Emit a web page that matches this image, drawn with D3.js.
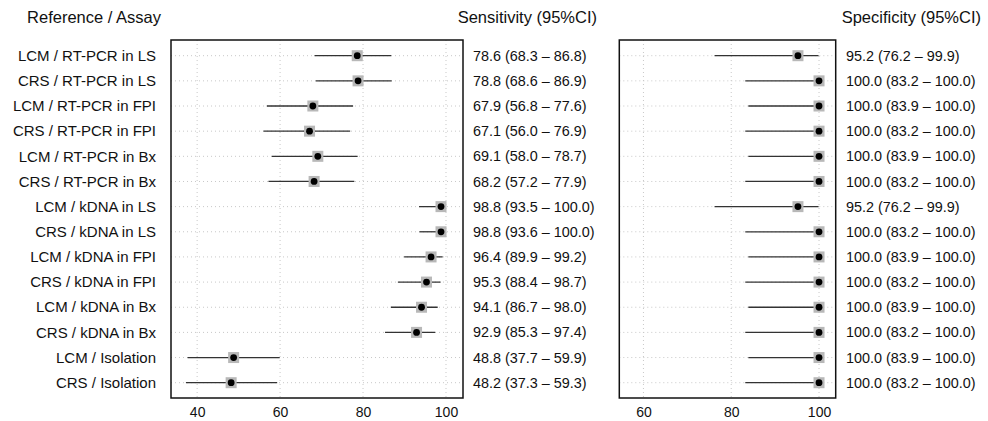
<!DOCTYPE html>
<meta charset="utf-8">
<title>Forest plot - sensitivity / specificity</title>
<style>
body { margin: 0; background: #fff; }
text { font-family: "Liberation Sans", Arial, sans-serif; fill: #111; }
.grid { stroke: #c8c8c8; stroke-width: 1; stroke-dasharray: 1,3; }
.ci { stroke: #333; stroke-width: 1.3; }
.box { fill: none; stroke: #111; stroke-width: 1.5; }
</style>
<body>
<div id="chart"></div>
<script src="https://cdn.jsdelivr.net/npm/d3@7"></script>
<script>

// data
const labels = [
  "LCM / RT-PCR in LS", "CRS / RT-PCR in LS",
  "LCM / RT-PCR in FPI", "CRS / RT-PCR in FPI",
  "LCM / RT-PCR in Bx", "CRS / RT-PCR in Bx",
  "LCM / kDNA in LS", "CRS / kDNA in LS",
  "LCM / kDNA in FPI", "CRS / kDNA in FPI",
  "LCM / kDNA in Bx", "CRS / kDNA in Bx",
  "LCM / Isolation", "CRS / Isolation"
];
const sens   = [78.6, 78.8, 67.9, 67.1, 69.1, 68.2, 98.8, 98.8, 96.4, 95.3, 94.1, 92.9, 48.8, 48.2];
const sensLo = [68.3, 68.6, 56.8, 56.0, 58.0, 57.2, 93.5, 93.6, 89.9, 88.4, 86.7, 85.3, 37.7, 37.3];
const sensHi = [86.8, 86.9, 77.6, 76.9, 78.7, 77.9, 100.0, 100.0, 99.2, 98.7, 98.0, 97.4, 59.9, 59.3];
const spec   = [95.2, 100.0, 100.0, 100.0, 100.0, 100.0, 95.2, 100.0, 100.0, 100.0, 100.0, 100.0, 100.0, 100.0];
const specLo = [76.2, 83.2, 83.9, 83.2, 83.9, 83.2, 76.2, 83.2, 83.9, 83.2, 83.9, 83.2, 83.9, 83.2];
const specHi = [99.9, 100.0, 100.0, 100.0, 100.0, 100.0, 99.9, 100.0, 100.0, 100.0, 100.0, 100.0, 100.0, 100.0];
const sensTicks = [40, 60, 80, 100];
const specTicks = [60, 80, 100];

const width = 988, height = 421;
const panelTop = 40, panelBottom = 398;

const svg = d3.select("#chart").append("svg")
    .attr("width", width)
    .attr("height", height);

// rows share one point scale
const y = d3.scalePoint()
    .domain(d3.range(labels.length))
    .range([55.7, 382.7]);

const fmt = d3.format(".1f");

// left labels
svg.append("text")
    .attr("x", 161).attr("y", 23)
    .attr("text-anchor", "end")
    .attr("font-size", 16.5)
    .text("Reference / Assay");

svg.append("g").selectAll("text")
    .data(labels)
    .enter().append("text")
    .attr("x", 156)
    .attr("y", (d, i) => y(i))
    .attr("dy", "0.35em")
    .attr("text-anchor", "end")
    .attr("font-size", 15)
    .text(d => d);

function drawPanel(opts) {
    const x = d3.scaleLinear().domain(opts.domain).range([opts.left, opts.right]);
    const g = svg.append("g");

    // dotted grid
    g.selectAll(".vgrid")
        .data(opts.ticks)
        .enter().append("line")
        .attr("class", "grid")
        .attr("x1", d => x(d)).attr("x2", d => x(d))
        .attr("y1", panelTop).attr("y2", panelBottom);
    g.selectAll(".hgrid")
        .data(labels)
        .enter().append("line")
        .attr("class", "grid")
        .attr("x1", opts.left).attr("x2", opts.right)
        .attr("y1", (d, i) => y(i)).attr("y2", (d, i) => y(i));

    // intervals
    g.selectAll(".ci")
        .data(opts.est)
        .enter().append("line")
        .attr("class", "ci")
        .attr("x1", (d, i) => x(opts.lo[i]))
        .attr("x2", (d, i) => x(opts.hi[i]))
        .attr("y1", (d, i) => y(i)).attr("y2", (d, i) => y(i));

    // grey square + black dot
    g.selectAll(".sq")
        .data(opts.est)
        .enter().append("rect")
        .attr("x", d => x(d) - 5.5)
        .attr("y", (d, i) => y(i) - 5.5)
        .attr("width", 11).attr("height", 11)
        .attr("fill", "#b8b8b8");
    g.selectAll(".pt")
        .data(opts.est)
        .enter().append("circle")
        .attr("cx", d => x(d))
        .attr("cy", (d, i) => y(i))
        .attr("r", 3.4)
        .attr("fill", "#000");

    g.append("rect")
        .attr("class", "box")
        .attr("x", opts.left).attr("y", panelTop)
        .attr("width", opts.right - opts.left)
        .attr("height", panelBottom - panelTop);

    // axis labels only, no tick marks
    const axis = g.append("g")
        .attr("transform", `translate(0,${panelBottom})`)
        .call(d3.axisBottom(x).tickValues(opts.ticks).tickSize(0).tickPadding(9));
    axis.select(".domain").remove();
    axis.selectAll("text")
        .attr("font-size", 14)
        .attr("font-family", "Liberation Sans, Arial, sans-serif")
        .attr("fill", "#111");

    // estimate (CI) column
    g.selectAll(".val")
        .data(opts.est)
        .enter().append("text")
        .attr("x", opts.textX)
        .attr("y", (d, i) => y(i))
        .attr("dy", "0.35em")
        .attr("font-size", 14.4)
        .text((d, i) => `${fmt(d)} (${fmt(opts.lo[i])} \u2013 ${fmt(opts.hi[i])})`);

    svg.append("text")
        .attr("x", opts.headX).attr("y", 23)
        .attr("text-anchor", "end")
        .attr("font-size", 16.5)
        .text(opts.title);
}

drawPanel({
    domain: [33.7, 104.1], left: 171, right: 463,
    ticks: sensTicks, est: sens, lo: sensLo, hi: sensHi,
    textX: 473, headX: 597, title: "Sensitivity (95%CI)"
});

drawPanel({
    domain: [54.5, 103.8], left: 619.3, right: 835.7,
    ticks: specTicks, est: spec, lo: specLo, hi: specHi,
    textX: 846, headX: 981, title: "Specificity (95%CI)"
});

</script>
</body>
